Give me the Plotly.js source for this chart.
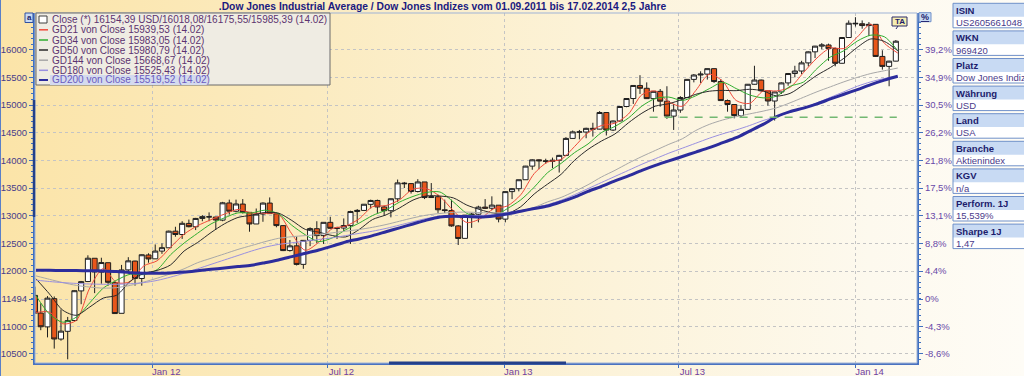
<!DOCTYPE html>
<html><head><meta charset="utf-8">
<script src="https://cdn.plot.ly/plotly-3.0.1.min.js"></script>
<style>
html,body{margin:0;padding:0;width:1024px;height:376px;overflow:hidden;}
#chart{width:1024px;height:376px;background:linear-gradient(90deg,#fbe4a8 0%,#fbebc0 30%,#fcf3da 60%,#fdf9ee 85%,#fefcf6 100%);}
</style></head><body><div id="chart"></div>
<script>
// ---------- DATA ----------
const titleText = '.Dow Jones Industrial Average / Dow Jones Indizes vom 01.09.2011 bis 17.02.2014 2,5 Jahre';

const weekDates = [
'2011-09-01','2011-09-07','2011-09-14','2011-09-21','2011-09-28','2011-10-05','2011-10-12','2011-10-19','2011-10-26','2011-11-02','2011-11-09','2011-11-16','2011-11-23','2011-11-30','2011-12-07','2011-12-14','2011-12-21','2011-12-28',
'2012-01-04','2012-01-11','2012-01-18','2012-01-25','2012-02-01','2012-02-08','2012-02-15','2012-02-22','2012-02-29','2012-03-07','2012-03-14','2012-03-21','2012-03-28','2012-04-04','2012-04-11','2012-04-18','2012-04-25','2012-05-02','2012-05-09','2012-05-16','2012-05-23','2012-05-30','2012-06-06','2012-06-13','2012-06-20','2012-06-27','2012-07-04','2012-07-11','2012-07-18','2012-07-25','2012-08-01','2012-08-08','2012-08-15','2012-08-22','2012-08-29','2012-09-05','2012-09-12','2012-09-19','2012-09-26','2012-10-03','2012-10-10','2012-10-17','2012-10-24','2012-10-31','2012-11-07','2012-11-14','2012-11-21','2012-11-28','2012-12-05','2012-12-12','2012-12-19','2012-12-26',
'2013-01-02','2013-01-09','2013-01-16','2013-01-23','2013-01-30','2013-02-06','2013-02-13','2013-02-20','2013-02-27','2013-03-06','2013-03-13','2013-03-20','2013-03-27','2013-04-03','2013-04-10','2013-04-17','2013-04-24','2013-05-01','2013-05-08','2013-05-15','2013-05-22','2013-05-29','2013-06-05','2013-06-12','2013-06-19','2013-06-26','2013-07-03','2013-07-10','2013-07-17','2013-07-24','2013-07-31','2013-08-07','2013-08-14','2013-08-21','2013-08-28','2013-09-04','2013-09-11','2013-09-18','2013-09-25','2013-10-02','2013-10-09','2013-10-16','2013-10-23','2013-10-30','2013-11-06','2013-11-13','2013-11-20','2013-11-27','2013-12-04','2013-12-11','2013-12-18','2013-12-25',
'2014-01-01','2014-01-08','2014-01-15','2014-01-22','2014-01-29','2014-02-05','2014-02-12'];

const openP = [
11559,11240,10990,11500,10770,10910,11105,11640,11810,12230,11980,12150,11790,11235,12020,12180,11865,12290,
12220,12360,12420,12720,12660,12860,12800,12950,12980,12975,12920,13230,13080,13210,13060,12850,13030,13228,13035,12820,12370,12455,12120,12555,12765,12640,12880,12770,12777,12820,13075,13095,13205,13275,13158,13090,13305,13590,13580,13437,13610,13328,13343,13107,13093,12815,12590,13010,13026,13155,13135,13190,
12938,13435,13488,13650,13896,14010,13993,13982,14001,14090,14397,14515,14512,14579,14565,14865,14548,14712,14974,15118,15354,15303,15116,15248,15070,14800,14910,15136,15464,15543,15559,15658,15425,15081,15010,14810,14922,15376,15452,15258,15073,15237,15400,15570,15615,15762,15962,16065,16086,16020,15755,16221,
16479,16470,16437,16459,15879,15699,15794];

const highP = [
11717,11416,11546,11540,11306,11170,11650,11820,12284,12230,12240,12150,11790,12110,12250,12185,12300,12320,
12480,12500,12730,12800,12900,12930,12960,13010,13060,12980,13250,13290,13290,13300,13060,13130,13240,13330,13050,12830,12560,12620,12560,12790,12900,12880,12980,12800,12950,13090,13120,13210,13290,13290,13180,13310,13653,13610,13590,13660,13610,13590,13380,13290,13290,12830,13010,13050,13180,13300,13350,13190,
13440,13500,13650,13900,14020,14020,14030,14050,14100,14420,14540,14550,14590,14680,14890,14865,14720,14980,15120,15355,15540,15410,15250,15290,15340,15020,15160,15470,15560,15610,15660,15660,15470,15100,15010,15000,15380,15710,15460,15260,15240,15410,15580,15710,15800,15970,16070,16120,16110,16040,16230,16530,
16588,16530,16500,16460,15990,15800,16175];

const lowP = [
11228,10930,10800,10597,10740,10404,11105,11400,11800,11600,11770,11735,11231,11235,11960,11735,11735,12150,
12220,12310,12420,12620,12580,12790,12740,12900,12900,12750,12900,13020,13060,13040,12710,12850,12890,13030,12790,12360,12350,12100,12040,12450,12500,12490,12770,12580,12720,12490,12870,13090,13130,13050,13000,12970,13250,13500,13400,13420,13300,13320,13050,13050,12800,12470,12590,12780,12880,13120,13100,12880,
12880,13300,13440,13650,13830,13840,13940,13860,13780,14090,14400,14380,14400,14430,14560,14450,14530,14700,14960,15020,15200,15110,14880,14970,14750,14550,14860,15130,15410,15400,15460,15400,15080,14880,14760,14780,14920,15370,15240,14990,14720,15200,15350,15500,15560,15700,15850,16010,15800,15700,15750,16220,
16420,16380,16250,15870,15640,15340,15790];

const closeP = [
11240,10992,11509,10771,10913,11103,11644,11808,12231,11983,12153,11796,11231,12019,12184,11866,12294,12218,
12360,12422,12720,12660,12862,12801,12950,12983,12978,12922,13233,13081,13212,13060,12850,13029,13228,13038,12821,12369,12455,12119,12554,12767,12640,12880,12772,12777,12822,13075,13096,13207,13275,13158,13090,13306,13593,13579,13437,13610,13328,13343,13107,13093,12815,12588,13010,13026,13155,13135,13191,12938,
13435,13488,13650,13896,14010,13993,13982,14001,14090,14397,14515,14512,14579,14565,14865,14548,14712,14974,15118,15354,15303,15116,15248,15070,14800,14910,15136,15464,15543,15559,15658,15425,15081,15010,14810,14922,15376,15452,15258,15073,15237,15400,15570,15615,15762,15962,16065,16086,16020,15755,16221,16479,
16470,16437,16459,15879,15699,15794,16154];

const maDates = [
'2011-09-02','2011-09-16','2011-09-30','2011-10-14','2011-10-28','2011-11-11','2011-11-25','2011-12-09','2011-12-23',
'2012-01-06','2012-01-20','2012-02-03','2012-02-17','2012-03-02','2012-03-16','2012-03-30','2012-04-13','2012-04-27','2012-05-11','2012-05-25','2012-06-08','2012-06-22','2012-07-06','2012-07-20','2012-08-03','2012-08-17','2012-08-31','2012-09-14','2012-09-28','2012-10-12','2012-10-26','2012-11-09','2012-11-23','2012-12-07','2012-12-21',
'2013-01-04','2013-01-18','2013-02-01','2013-02-15','2013-03-01','2013-03-15','2013-03-29','2013-04-12','2013-04-26','2013-05-10','2013-05-24','2013-06-07','2013-06-21','2013-07-05','2013-07-19','2013-08-02','2013-08-16','2013-08-30','2013-09-13','2013-09-27','2013-10-11','2013-10-25','2013-11-08','2013-11-22','2013-12-06','2013-12-20',
'2014-01-03','2014-01-17','2014-01-31','2014-02-14'];

const gd21 = [11250,11257,11046,11108,11697,12044,11791,11808,12091,12185,12430,12666,12818,12928,13029,13112,13051,13042,13029,12671,12374,12520,12765,12813,12943,13163,13183,13287,13479,13489,13347,13090,12877,12945,13127,13175,13378,13761,13970,14017,14251,14501,14630,14673,14838,15187,15255,15059,14979,15263,15556,15431,15082,15030,15252,15255,15320,15587,15851,16033,16021,16231,16461,16119,15940];
const gd34 = [11554,11223,11075,11167,11426,11691,11835,11942,11935,12025,12295,12505,12682,12851,12961,13051,13048,13099,13034,12827,12655,12532,12598,12745,12866,13003,13103,13246,13348,13420,13428,13248,13041,12971,12989,13127,13285,13515,13779,13946,14141,14297,14503,14614,14766,14982,15118,15144,15083,15167,15296,15409,15298,15183,15130,15161,15338,15416,15659,15869,15982,16157,16263,16235,15983];
const gd50 = [11860,11586,11290,11200,11350,11511,11563,11815,11957,12010,12111,12361,12515,12695,12853,12968,13007,13058,13047,12914,12752,12702,12642,12616,12750,12931,13015,13140,13282,13358,13355,13321,13191,13108,13046,13039,13162,13392,13572,13748,14002,14198,14350,14478,14679,14853,14980,15024,15103,15194,15250,15265,15260,15285,15255,15164,15211,15367,15539,15679,15846,16044,16195,16151,15981];
const gd144 = [11912,11850,11790,11740,11710,11690,11700,11740,11800,11870,11950,12040,12150,12230,12310,12390,12460,12530,12590,12620,12640,12660,12690,12720,12750,12790,12840,12900,12960,13010,13040,13060,13065,13055,13050,13060,13090,13150,13250,13330,13440,13560,13700,13820,13950,14070,14180,14290,14390,14540,14650,14730,14790,14840,14890,14950,15040,15140,15240,15330,15420,15500,15570,15620,15669];
const gd180 = [11835,11810,11790,11775,11765,11760,11760,11770,11790,11830,11890,11960,12040,12120,12200,12280,12360,12430,12480,12510,12540,12570,12600,12640,12680,12720,12770,12830,12890,12950,12980,13000,13005,13005,13020,13050,13090,13140,13200,13280,13380,13490,13600,13710,13820,13930,14030,14130,14220,14310,14400,14480,14550,14630,14720,14790,14870,14950,15040,15140,15240,15340,15420,15480,15525];
const gd200 = [12015,12012,12010,12008,12005,12000,11990,11970,11960,11958,11965,11982,12005,12030,12055,12080,12105,12150,12200,12260,12320,12380,12450,12525,12580,12640,12710,12780,12850,12920,12975,12990,12985,12975,12995,13030,13080,13130,13175,13250,13336,13440,13530,13630,13720,13820,13910,13990,14070,14150,14230,14320,14410,14530,14650,14790,14880,14945,15020,15110,15195,15280,15370,15450,15520];

const supportDates = ['2013-06-01','2014-02-13'];
const supportLevel = [14780,14780];

const yTickVals = [10500,11000,11494,12000,12500,13000,13500,14000,14500,15000,15500,16000];
const pctLabels = ['-8,6%','-4,3%','0%','4,4%','8,8%','13,1%','17,5%','21,8%','26,2%','30,5%','34,9%','39,2%'];
const xTickVals = ['2012-01-01','2012-07-01','2013-01-01','2013-07-01','2014-01-01'];
const xTickText = ['Jan 12','Jul 12','Jan 13','Jul 13','Jan 14'];

const legendLabels = [
'Close (*) 16154,39 USD/16018,08/16175,55/15985,39 (14.02)',
'GD21 von Close 15939,53 (14.02)',
'GD34 von Close 15983,05 (14.02)',
'GD50 von Close 15980,79 (14.02)',
'GD144 von Close 15668,67 (14.02)',
'GD180 von Close 15525,43 (14.02)',
'GD200 von Close 15519,52 (14.02)'];

const infoHeaders = ['ISIN','WKN','Platz','Währung','Land','Branche','KGV','Perform. 1J','Sharpe 1J'];
const infoValues = ['US2605661048','969420','Dow Jones Indizes','USD','USA','Aktienindex','n/a','15,539%','1,47'];

// ---------- STYLE ----------
const FONT = 'Liberation Sans, Arial, sans-serif';
const maColors = ['#f04a3a','#2fae2f','#2a2a2a','#a8a8a8','#9a90e0','#2c2c9c'];
const maWidths = [1,1,1,1,1,3];
const maSeries = [gd21,gd34,gd50,gd144,gd180,gd200];

const L=35, R=917, T=13, B=363, W=R-L, H=B-T;
const px = x => (x-L)/W;
const py = y => (B-y)/H;
const yRange = [10337,16664];

const traces = [];
maSeries.forEach((s,i)=>{
  traces.push({type:'scatter',mode:'lines',x:maDates,y:s,
    line:{color:maColors[i],width:maWidths[i],shape:'spline',smoothing:0.8},hoverinfo:'skip',showlegend:false});
});
traces.push({type:'candlestick',x:weekDates,open:openP,high:highP,low:lowP,close:closeP,
  increasing:{line:{color:'#1e1e1e',width:1},fillcolor:'#ffffff'},
  decreasing:{line:{color:'#1e1e1e',width:1},fillcolor:'#e8561a'},
  whiskerwidth:0,hoverinfo:'skip',showlegend:false});
traces.push({type:'scatter',mode:'lines',x:supportDates,y:supportLevel,yaxis:'y2',
  line:{color:'#72b872',width:1.5,dash:'8px,7px'},hoverinfo:'skip',showlegend:false});

const shapes = [];
const ann = [];
function rect(x0,y0,x1,y1,fill,lc,lw){shapes.push({type:'rect',xref:'paper',yref:'paper',x0:px(x0),x1:px(x1),y0:py(y1),y1:py(y0),fillcolor:fill,line:{color:lc||'rgba(0,0,0,0)',width:lw===undefined?1:lw},layer:'above'});}
function seg(x0,y0,x1,y1,c,w,dash){shapes.push({type:'line',xref:'paper',yref:'paper',x0:px(x0),x1:px(x1),y0:py(y0),y1:py(y1),line:{color:c,width:w,dash:dash||'solid'},layer:'above'});}
function txt(x,y,t,size,color,anchor,bold){ann.push({xref:'paper',yref:'paper',x:px(x),y:py(y),text:bold?'<b>'+t+'</b>':t,showarrow:false,xanchor:anchor||'left',yanchor:'middle',font:{family:FONT,size:size,color:color},borderpad:0});}

// frame
rect(35,13,917,363,'rgba(0,0,0,0)','#9fb3d6',1);
seg(0.5,0,0.5,376,'#5a80c8',1);
seg(389,363,566,363,'#24408a',3);
seg(34,100,34,217,'#24408a',2.5);

// legend
rect(36,13,330,85,'#efece3','#6a6a6a',1);
rect(50,75,208,85,'#d4daee',null,0);
const rowY=[19.5,29.8,40,50,60.2,70.3,80];
rect(39,16,47,23,'#ffffff','#404040',1);
for(let i=1;i<7;i++) seg(39,rowY[i],48,rowY[i],maColors[i-1],i===6?2:1.5);
legendLabels.forEach((t,i)=>txt(50.5,rowY[i],t,10,i===6?'#6a5ac0':'#5c3370','left',false));

// icons
rect(25,13,33,22.5,'#c8daf3','#3050a0',1);
txt(29,17.8,'a',8,'#1c1c6c','center',true);
rect(892,17,907,26,'#f6eeb0','#2a2a6a',1);
txt(899.5,21.5,'TA',8,'#1c1c6c','center',true);
seg(898,26,896,29,'#2a2a6a',1);
rect(919,12.7,931,21.7,'#c8daf3','#7090c8',1);
txt(925,17.2,'<u>%</u>',9,'#1c1c6c','center',true);

// info boxes
infoHeaders.forEach((h,i)=>{
  const top=3.3+27.6*i;
  rect(953,top,1030,top+24.5,'#ffffff',null,0);
  rect(953,top,1030,top+13.4,'#c8daf3',null,0);
  rect(953,top,1030,top+24.5,'rgba(0,0,0,0)','#6f90c9',1);
  txt(955,top+7,h,9.5,'#1c1c6c','left',true);
  txt(955,top+19.2,infoValues[i],9.5,'#4a3a8a','left',false);
});

const axisBlue='#4070c0';
const layout = {
  width:1024,height:376,
  margin:{l:35,r:107,t:13,b:13,pad:0},
  paper_bgcolor:'rgba(0,0,0,0)',plot_bgcolor:'rgba(0,0,0,0)',
  showlegend:false,
  boxgap:0.12, boxgroupgap:0,
  font:{family:FONT},
  title:{text:'<b>'+titleText+'</b>',font:{family:FONT,size:10.3,color:'#1a1a80'},
    x:442.5/1024,xref:'container',xanchor:'center',y:1-6.5/376,yref:'container',yanchor:'middle'},
  xaxis:{type:'date',range:['2011-09-01','2014-03-06'],tickmode:'array',tickvals:xTickVals,ticktext:xTickText,
    showgrid:true,gridcolor:'#c4c4c4',griddash:'dot',gridwidth:1,ticks:'outside',ticklen:3,tickcolor:axisBlue,
    showline:true,linecolor:'#4a72c0',linewidth:1.5,zeroline:false,
    tickfont:{family:FONT,size:9.5,color:'#7040a0'},ticklabelshift:14,ticklabelstandoff:-4,
    rangeslider:{visible:false},fixedrange:true},
  yaxis:{range:yRange,tickmode:'array',tickvals:yTickVals,ticktext:yTickVals.map(String),
    ticks:'outside',ticklen:4,tickcolor:axisBlue,showline:true,linecolor:axisBlue,linewidth:2,
    showgrid:true,gridcolor:'#c4c4c4',griddash:'dot',zeroline:false,
    tickfont:{family:FONT,size:9.5,color:'#483d8b'},
    minor:{tickmode:'linear',tick0:0,dtick:100,ticklen:2,tickcolor:axisBlue,showgrid:false},fixedrange:true},
  yaxis2:{range:yRange,overlaying:'y',side:'right',tickmode:'array',tickvals:yTickVals,ticktext:pctLabels,
    ticks:'outside',ticklen:4,tickcolor:axisBlue,showline:true,linecolor:axisBlue,linewidth:2,
    showgrid:false,zeroline:false,tickfont:{family:FONT,size:9.5,color:'#6848a8'},
    minor:{tickmode:'linear',tick0:0,dtick:100,ticklen:2,tickcolor:axisBlue,showgrid:false},fixedrange:true},
  shapes:shapes,annotations:ann
};
Plotly.newPlot('chart',traces,layout,{staticPlot:true,displayModeBar:false});
</script></body></html>
